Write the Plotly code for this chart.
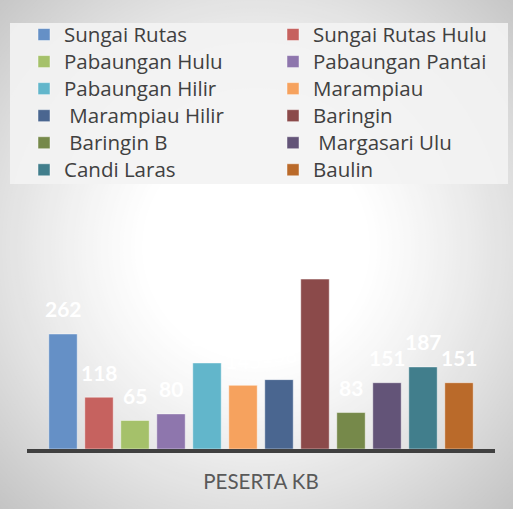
import plotly.graph_objects as go

categories = ["Sungai Rutas", "Sungai Rutas Hulu", "Pabaungan Hulu", "Pabaungan Pantai",
              "Pabaungan Hilir", "Marampiau", "\u00a0Marampiau Hilir", "Baringin",
              "\u00a0Baringin B", "\u00a0Margasari Ulu", "Candi Laras", "Baulin"]
values = [262, 118, 65, 80, 196, 145, 158, 387, 83, 151, 187, 151]
colors = ["#6590c6", "#c6625f", "#a5c16a", "#8e76ad", "#62b6cb", "#f6a25e",
          "#4a6690", "#8b4a4a", "#76894a", "#635478", "#417e8c", "#ba6a2a"]
axis_title = "PESERTA KB"

W, H = 513, 509
ML, MR, MT, MB = 27, 18, 270, 60
PW, PH = W - ML - MR, H - MT - MB


def px_x(px):
    return (px - ML) / PW


def px_y(py):
    return (H - MB - py) / PH


fig = go.Figure()
for i, (name, v, c) in enumerate(zip(categories, values, colors)):
    fig.add_trace(go.Bar(
        x=[name], y=[v],
        name=f"<span style='font-size:20.5px'>{name}</span>",
        legendwidth=204 if i % 2 == 0 else 182,
        marker=dict(color=c, line=dict(color="rgba(255,255,255,0.45)", width=1)),
    ))

annotations = []
for name, v in zip(categories, values):
    annotations.append(dict(
        x=name, y=v, xref="x", yref="y", text=str(v), showarrow=False,
        yanchor="middle", yshift=25,
        font=dict(family="Lato", size=21, color="white", weight="bold"),
    ))

# radial background gradient (white centre, grey edges)
shapes = []
cx, cy = 256.0, 247.0
r_in, r_out = 110.0, 375.0
c_in, c_out = 255.0, 194.0
n_rings = 70
for k in range(n_rings + 1):
    r = r_out - (r_out - r_in) * k / n_rings
    t = ((r - r_in) / (r_out - r_in)) ** 1.2
    g = int(round(c_in + (c_out - c_in) * t))
    shapes.append(dict(
        type="circle", xref="paper", yref="paper", layer="below",
        x0=px_x(cx - r), x1=px_x(cx + r),
        y0=px_y(cy + r), y1=px_y(cy - r),
        fillcolor=f"rgb({g},{g},{g})", line=dict(width=0),
    ))

# legend background panel
shapes.append(dict(
    type="rect", xref="paper", yref="paper", layer="below",
    x0=px_x(10), x1=px_x(508), y0=px_y(184), y1=px_y(23),
    fillcolor="rgba(243,243,243,0.9)", line=dict(width=0),
))

fig.update_layout(
    width=W, height=H,
    margin=dict(l=ML, r=MR, t=MT, b=MB, pad=0),
    paper_bgcolor="rgb(194,194,194)",
    plot_bgcolor="rgba(0,0,0,0)",
    barmode="overlay",
    bargap=0.21,
    showlegend=True,
    font=dict(family="Lato", color="#404040"),
    legend=dict(
        orientation="h", xref="paper", yref="paper",
        x=px_x(24), y=px_y(16), xanchor="left", yanchor="top",
        entrywidth=204, entrywidthmode="pixels",
        bgcolor="rgba(0,0,0,0)", borderwidth=0,
        font=dict(family="Open Sans", size=18.5, color="#404040"),
        traceorder="normal",
    ),
    xaxis=dict(
        type="category", range=[-1, len(categories)],
        showticklabels=False, ticks="", showgrid=False, zeroline=False,
        showline=True, linecolor="#404040", linewidth=4,
        title=dict(text=axis_title, font=dict(family="Lato", size=20.5, color="#595959"), standoff=24),
        automargin=False, fixedrange=True,
    ),
    yaxis=dict(
        range=[0, PH / 0.439], visible=False, showgrid=False, zeroline=False,
        automargin=False, fixedrange=True,
    ),
    annotations=annotations,
    shapes=shapes,
)

fig.write_html(
    "out.html",
    config={"displayModeBar": False},
    post_script="document.body.style.margin='0';document.body.style.overflow='hidden';",
)
